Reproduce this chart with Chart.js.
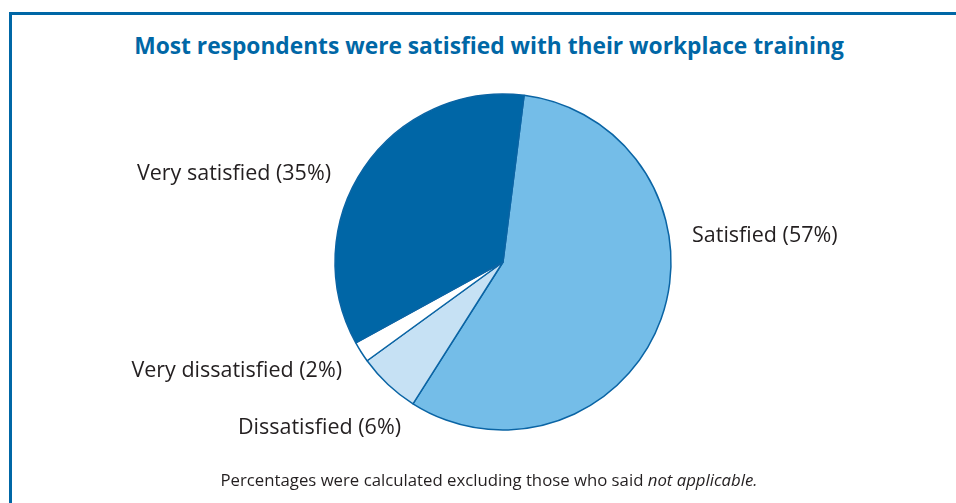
<!DOCTYPE html>
<html>
<head>
<meta charset="utf-8">
<script src="https://cdn.jsdelivr.net/npm/chart.js@4"></script>
<style>
  html, body { margin: 0; padding: 0; background: #fff; overflow: hidden; }
  body { width: 956px; height: 503px; position: relative; font-family: "Open Sans", sans-serif; }
  #frame {
    position: absolute; left: 9px; top: 12px; width: 954px; height: 520px;
    border: 3px solid #0067a6; box-sizing: border-box;
  }
  #titulo {
    position: absolute; left: 9px; width: 960px; top: 31px; margin: 0;
    text-align: center; color: #0067a6; font-weight: 700; font-size: 22.75px; line-height: 30px;
  }
  #nota {
    position: absolute; left: 9px; width: 960px; top: 469px; margin: 0;
    text-align: center; color: #231f20; font-size: 16.75px; line-height: 22px;
  }
  #grafico { position: absolute; left: 0; top: 0; }
</style>
</head>
<body>
<div id="frame"></div>
<h1 id="titulo">Most respondents were satisfied with their workplace training</h1>
<canvas id="grafico" width="956" height="503"></canvas>
<p id="nota">Percentages were calculated excluding those who said <i>not applicable.</i></p>
<script>
const categorias = ["Satisfied", "Dissatisfied", "Very dissatisfied", "Very satisfied"];
const percentuais = [57, 6, 2, 35];
const rotulos = ["Satisfied (57%)", "Dissatisfied (6%)", "Very dissatisfied (2%)", "Very satisfied (35%)"];

const cores = ["#74bde8", "#c6e1f4", "#ffffff", "#0066a6"];

// onde cada rótulo fica em relação ao centro da pizza (dx, dy, alinhamento)
const posRotulos = [
    { dx: 189, dy: -26, align: "left" },
    { dx: -102, dy: 166, align: "right" },
    { dx: -161, dy: 109, align: "right" },
    { dx: -172, dy: -88, align: "right" }
];

const rotulosPlugin = {
    id: "rotulos",
    afterDraw(chart) {
        const ctx = chart.ctx;
        const arcos = chart.getDatasetMeta(0).data;
        ctx.save();
        ctx.font = "21.5px 'Open Sans'";
        ctx.fillStyle = "#231f20";
        ctx.textBaseline = "middle";
        arcos.forEach((arc, i) => {
            const p = posRotulos[i];
            ctx.textAlign = p.align;
            ctx.fillText(rotulos[i], arc.x + p.dx, arc.y + p.dy);
        });
        ctx.restore();
    }
};

const ctx = document.getElementById("grafico").getContext("2d");

new Chart(ctx, {
    type: "pie",
    data: {
        labels: categorias,
        datasets: [{
            data: percentuais,
            backgroundColor: cores,
            borderColor: "#0a64a4",
            borderWidth: 1.5
        }]
    },
    options: {
        responsive: false,
        animation: false,
        rotation: 7.2,
        radius: 168,
        layout: { padding: { top: 94, bottom: 73, left: 335, right: 285 } },
        plugins: {
            legend: { display: false },
            tooltip: { enabled: false }
        }
    },
    plugins: [rotulosPlugin]
});
</script>
</body>
</html>
